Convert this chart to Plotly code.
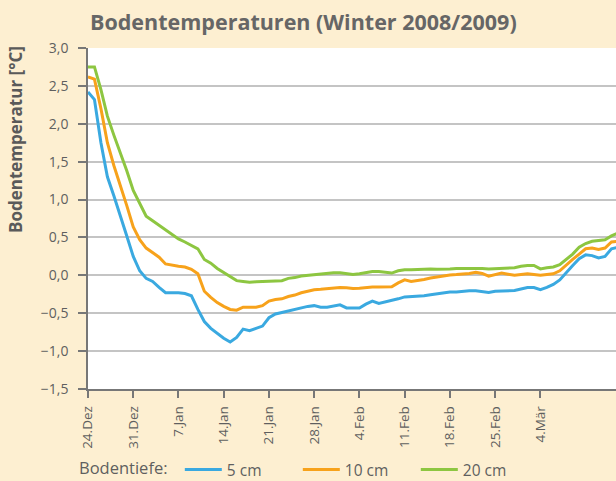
import pandas as pd
import plotly.graph_objects as go

start_date = "2008-12-24"
series_names = ["5 cm", "10 cm", "20 cm"]

temp_5cm = [2.42, 2.32, 1.75, 1.30, 1.05, 0.80, 0.52, 0.25, 0.06, -0.04,
            -0.08, -0.16, -0.23, -0.23, -0.23, -0.24, -0.27, -0.45, -0.61, -0.70,
            -0.77, -0.83, -0.88, -0.82, -0.71, -0.73, -0.70, -0.67, -0.56, -0.51,
            -0.49, -0.47, -0.44, -0.43, -0.41, -0.40, -0.42, -0.42, -0.40, -0.39,
            -0.43, -0.43, -0.43, -0.38, -0.34, -0.37, -0.35, -0.34, -0.31, -0.285,
            -0.28, -0.28, -0.27, -0.255, -0.245, -0.235, -0.22, -0.22, -0.21, -0.205,
            -0.205, -0.215, -0.225, -0.21, -0.205, -0.20, -0.20, -0.18, -0.16, -0.16,
            -0.19, -0.16, -0.12, -0.06, 0.04, 0.13, 0.22, 0.27, 0.26, 0.23,
            0.25, 0.35, 0.37]
temp_10cm = [2.62, 2.59, 2.20, 1.75, 1.45, 1.20, 0.92, 0.64, 0.47, 0.36,
             0.30, 0.24, 0.15, 0.13, 0.12, 0.11, 0.08, 0.02, -0.21, -0.29,
             -0.36, -0.41, -0.45, -0.46, -0.42, -0.42, -0.42, -0.40, -0.34, -0.32,
             -0.31, -0.28, -0.26, -0.23, -0.21, -0.19, -0.185, -0.175, -0.17, -0.16,
             -0.165, -0.175, -0.17, -0.16, -0.155, -0.155, -0.15, -0.15, -0.10, -0.06,
             -0.08, -0.07, -0.055, -0.035, -0.02, 0.00, 0.005, 0.01, 0.015, 0.025,
             0.04, 0.025, -0.01, 0.005, 0.03, 0.015, 0.00, 0.01, 0.02, 0.01,
             0.00, 0.01, 0.02, 0.06, 0.14, 0.21, 0.28, 0.35, 0.36, 0.34,
             0.36, 0.44, 0.45]
temp_20cm = [2.75, 2.75, 2.45, 2.10, 1.85, 1.62, 1.38, 1.12, 0.94, 0.78,
             0.72, 0.66, 0.61, 0.55, 0.48, 0.44, 0.40, 0.35, 0.21, 0.16,
             0.09, 0.04, -0.02, -0.07, -0.08, -0.09, -0.085, -0.08, -0.07, -0.07,
             -0.07, -0.04, -0.03, -0.01, 0.00, 0.01, 0.02, 0.025, 0.035, 0.035,
             0.02, 0.01, 0.02, 0.035, 0.05, 0.05, 0.04, 0.03, 0.06, 0.075,
             0.075, 0.08, 0.085, 0.085, 0.08, 0.08, 0.085, 0.09, 0.09, 0.095,
             0.095, 0.09, 0.085, 0.09, 0.095, 0.10, 0.10, 0.12, 0.13, 0.13,
             0.085, 0.10, 0.11, 0.14, 0.21, 0.28, 0.37, 0.42, 0.45, 0.46,
             0.47, 0.52, 0.56]

x_tick_dates = ["2008-12-24", "2008-12-31", "2009-01-07", "2009-01-14", "2009-01-21",
                "2009-01-28", "2009-02-04", "2009-02-11", "2009-02-18", "2009-02-25",
                "2009-03-04"]
x_tick_labels = ["24.Dez", "31.Dez", "7.Jan", "14.Jan", "21.Jan", "28.Jan",
                 "4.Feb", "11.Feb", "18.Feb", "25.Feb", "4.Mär"]
y_tick_values = [-1.5, -1.0, -0.5, 0.0, 0.5, 1.0, 1.5, 2.0, 2.5, 3.0]
y_tick_labels = ["\u22121,5", "\u22121,0", "\u22120,5", "0,0", "0,5", "1,0",
                 "1,5", "2,0", "2,5", "3,0"]

colors = ["#3AA9E0", "#F7A21B", "#8DC641"]
FONT = "Open Sans"
TXT = "#5f5f5f"

dates = pd.date_range(start_date, periods=len(temp_5cm), freq="D")
x_end = pd.Timestamp(start_date) + pd.Timedelta(hours=81.7 * 24)

fig = go.Figure()
for name, vals, col in zip(series_names, [temp_5cm, temp_10cm, temp_20cm], colors):
    fig.add_trace(go.Scatter(x=dates, y=vals, mode="lines", name=name,
                             line=dict(color=col, width=3)))

fig.update_layout(
    width=616, height=481,
    margin=dict(l=88, r=0, t=48, b=92),
    paper_bgcolor="#FDEFD1",
    plot_bgcolor="#FFFFFF",
    font=dict(family=FONT, size=13, color=TXT),
    showlegend=True,
    legend=dict(orientation="h", xref="container", yref="container",
                x=77 / 616, xanchor="left", y=1 - 470 / 481, yanchor="middle",
                title=dict(text="Bodentiefe:\u00a0", side="left",
                           font=dict(size=16.5, color=TXT)),
                font=dict(size=15.5, color=TXT), bgcolor="rgba(0,0,0,0)",
                entrywidth=66, entrywidthmode="pixels", itemwidth=37),
    annotations=[
        dict(text="<b>Bodentemperaturen (Winter 2008/2009)</b>", xref="paper", yref="paper",
             x=0.0, y=1 + 27 / 341, xanchor="left", yanchor="middle", showarrow=False,
             font=dict(size=21.5, color="#666666", family=FONT)),
        dict(text="<b>Bodentemperatur [°C]</b>", xref="paper", yref="paper",
             x=-73 / 528, y=(389 - 140) / 341, xanchor="center", yanchor="middle",
             textangle=-90, showarrow=False, font=dict(size=17, color="#5a5a5a", family=FONT)),
    ],
)
fig.update_xaxes(type="date", range=[pd.Timestamp(start_date), x_end],
                 tickvals=x_tick_dates, ticktext=x_tick_labels, tickangle=-90,
                 ticks="outside", ticklen=7, tickcolor="#777777", tickwidth=1.5,
                 showline=True, linecolor="#777777", linewidth=1.5, ticklabelstandoff=3,
                 showgrid=False, zeroline=False, tickfont=dict(size=13.5, color=TXT))
fig.update_yaxes(range=[-1.5, 3.0], tickvals=y_tick_values, ticktext=y_tick_labels,
                 ticks="outside", ticklen=8, tickcolor="#777777", tickwidth=1.5,
                 showline=True, linecolor="#777777", linewidth=1.5, ticklabelstandoff=7,
                 showgrid=True, gridcolor="#C4C4C4", gridwidth=1.5, zeroline=False,
                 tickfont=dict(size=14, color=TXT))

fig.write_html("out.html", config={"displayModeBar": False},
               post_script="document.body.style.margin='0px';")
